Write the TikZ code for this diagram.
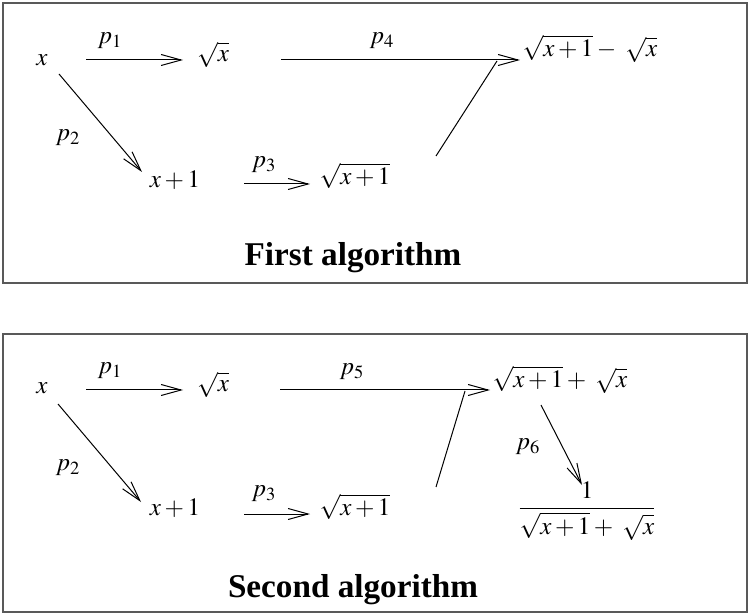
\documentclass[tikz,border=0pt]{standalone}
\usepackage{mathptmx}
\usepackage[no-math]{fontspec}
\setmainfont{Liberation Serif}
\usepackage{tikz}
\usetikzlibrary{calc, arrows.meta}

\tikzset{
  mathnode/.style={inner sep=0pt, font=\fontsize{12.5}{15}\selectfont},
  labnode/.style={inner sep=0pt, font=\fontsize{12.5}{15}\selectfont},
  titlenode/.style={inner sep=0pt, font=\fontsize{16.6}{20}\selectfont\bfseries},
  frame/.style={draw=black!65, line width=1pt},
  arr/.style={line width=0.5pt, -{Straight Barb[length=10pt,width=5.5pt]}},
  joinline/.style={line width=0.5pt},
}

\begin{document}
\begin{tikzpicture}[x=0.5pt, y=-0.5pt]

\useasboundingbox (0,0) rectangle (749,614);

%% ─── First algorithm ────────────────────────────────────────
\draw[frame] (3,3) rectangle (747,283);

\node[mathnode] (xa)    at (42,60)   {$x$};
\node[mathnode] (sqa)   at (213,55)  {$\sqrt{x}$};
\node[mathnode] (xpa)   at (175,180) {$x+1$};
\node[mathnode] (sqpa)  at (355,176) {$\sqrt{x+1}$};
\node[mathnode] (resa)  at (590,49)  {$\sqrt{x+1}-\;\sqrt{x}$};

\node[labnode] (pa1) at (110,41)  {$p_1$};
\node[labnode] (pa2) at (68,138)  {$p_2$};
\node[labnode] (pa3) at (264,165) {$p_3$};
\node[labnode] (pa4) at (382,41)  {$p_4$};

\draw[arr] ($(xa)+(44,0)$) -- ($(sqa)+(-30,5)$);
\draw[arr] ($(xa)+(17,14)$) -- ($(xpa)+(-33,-8)$);
\draw[arr] ($(xpa)+(69,4)$) -- ($(sqpa)+(-45,8)$);
\draw[arr] ($(sqa)+(68,5)$) -- ($(resa)+(-70,11)$);
\draw[joinline] ($(sqpa)+(81,-20)$) -- ($(resa)+(-93,12)$);

\node[titlenode] (ttla) at (353,258) {First algorithm};

%% ─── Second algorithm ───────────────────────────────────────
\draw[frame] (3,334) rectangle (747,612);

\node[mathnode] (xb)    at (42,388)  {$x$};
\node[mathnode] (sqb)   at (213,385) {$\sqrt{x}$};
\node[mathnode] (xpb)   at (175,508) {$x+1$};
\node[mathnode] (sqpb)  at (355,507) {$\sqrt{x+1}$};
\node[mathnode] (resb)  at (560,380) {$\sqrt{x+1}+\;\sqrt{x}$};
\node[mathnode] (frcb)  at (587,511)
  {$\displaystyle\frac{1}{\sqrt{x+1}+\;\sqrt{x}}$};

\node[labnode] (pb1) at (110,371) {$p_1$};
\node[labnode] (pb2) at (68,468)  {$p_2$};
\node[labnode] (pb3) at (264,494) {$p_3$};
\node[labnode] (pb5) at (352,372) {$p_5$};
\node[labnode] (pb6) at (528,447) {$p_6$};

\draw[arr] ($(xb)+(44,2)$) -- ($(sqb)+(-30,5)$);
\draw[arr] ($(xb)+(16,16)$) -- ($(xpb)+(-34,-6)$);
\draw[arr] ($(xpb)+(69,6)$) -- ($(sqpb)+(-45,7)$);
\draw[arr] ($(sqb)+(67,5)$) -- ($(resb)+(-70,10)$);
\draw[joinline] ($(sqpb)+(81,-20)$) -- ($(resb)+(-95,11)$);
\draw[arr] ($(resb)+(-19,25)$) -- ($(frcb)+(-5,-26)$);

\node[titlenode] (ttlb) at (353,590) {Second algorithm};

\end{tikzpicture}
\end{document}
